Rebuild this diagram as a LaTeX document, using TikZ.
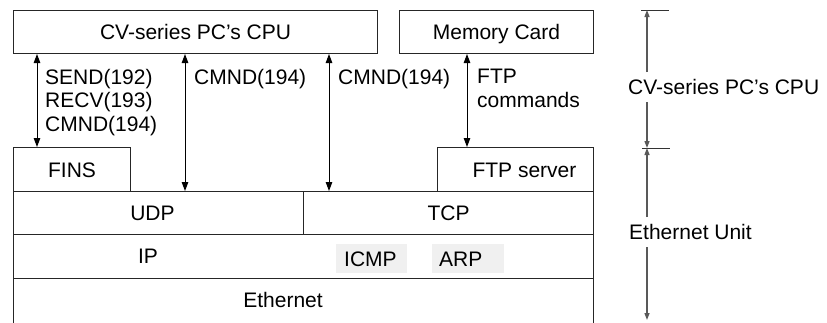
\documentclass[tikz,border=0pt]{standalone}
\usepackage{fontspec}
\setmainfont{Liberation Sans}
\usetikzlibrary{arrows.meta}
\begin{document}
\begin{tikzpicture}[x=1bp,y=-1bp,
  every node/.style={font=\fontsize{21bp}{21bp}\selectfont, text=black},
  box/.style={draw=black!85, line width=1bp, inner sep=0pt, anchor=north west, text height=15.2bp, text depth=0bp},
  lbl/.style={inner sep=0pt, text height=15.2bp, text depth=0bp},
  ml/.style={inner sep=0pt, align=left, anchor=north west, font=\fontsize{21bp}{23.5bp}\selectfont},
  gbox/.style={fill=black!6, inner ysep=0pt, minimum height=29bp, align=left, anchor=north west, text height=15.2bp, text depth=0bp},
  dbl/.style={draw=black, line width=1bp, {Triangle[length=9bp,width=6.5bp]}-{Triangle[length=9bp,width=6.5bp]}},
  dim/.style={draw=black!65, line width=1.3bp, -{Triangle[length=7bp,width=5bp]}},
  tick/.style={draw=black!80, line width=0.8bp}]
\useasboundingbox (0,0) rectangle (827,322);

% boxes
\node[box, minimum width=364bp, minimum height=43bp] (cpu) at (13,10) {CV-series PC’s CPU};
\node[box, minimum width=194bp, minimum height=43bp] (mem) at (399,10) {Memory Card};
\node[box, minimum width=117bp, minimum height=44bp] (fins) at (13,147) {FINS};
\node[box, minimum width=156bp, minimum height=44bp] (ftps) at (437,147) {\hspace*{18bp}FTP server};
\node[box, minimum width=290bp, minimum height=43bp] (udp) at (13,191) {\hspace*{-12bp}UDP};
\node[box, minimum width=290bp, minimum height=43bp] (tcp) at (303,191) {TCP};
\node[box, minimum width=580bp, minimum height=44bp] (ip) at (13,234) {};
\node[lbl] (iplbl) at (148,256) {IP};
\node[gbox, inner xsep=8bp, text width=55bp] (icmp) at (336,244) {ICMP};
\node[gbox, inner xsep=7bp, text width=58bp] (arp) at (432,244) {ARP};
\node[box, minimum width=580bp, minimum height=44.5bp] (eth) at (13,278) {};
\node[lbl] (ethlbl) at (283,300) {Ethernet};

% arrows
\coordinate (a1) at ([xshift=24bp]cpu.south west);
\coordinate (a2) at ([xshift=172bp]cpu.south west);
\coordinate (a3) at ([xshift=316bp]cpu.south west);
\coordinate (a4) at ([xshift=68bp]mem.south west);
\draw[dbl] (a1) -- (a1 |- fins.north);
\draw[dbl] (a2) -- (a2 |- udp.north);
\draw[dbl] (a3) -- (a3 |- udp.north);
\draw[dbl] (a4) -- (a4 |- ftps.north);

% arrow labels
\node[ml] (l1) at (45,69) {SEND(192)\\RECV(193)\\CMND(194)};
\node[ml] (l2) at (194,69) {CMND(194)};
\node[ml] (l3) at (338,69) {CMND(194)};
\node[ml] (l4) at (477,69) {FTP\\commands};

% dimension
\node[lbl, anchor=west] (r1) at (628,87) {CV-series PC’s CPU};
\node[lbl, anchor=west] (r2) at (629,232) {Ethernet Unit};
\coordinate (d0) at (647,10);
\coordinate (d1) at (647,148);
\coordinate (d2) at (647,320);
\coordinate (g1) at (647,72);
\coordinate (g2) at (647,102);
\coordinate (g3) at (647,217);
\coordinate (g4) at (647,247);
\draw[tick] ([xshift=-6bp]d0) -- ([xshift=22bp]d0);
\draw[tick] ([xshift=-5bp]d1) -- ([xshift=23bp]d1);
\draw[dim] (g1) -- (d0);
\draw[dim] (g2) -- (d1);
\draw[dim] (g3) -- (d1);
\draw[dim] (g4) -- (d2);
\end{tikzpicture}
\end{document}
